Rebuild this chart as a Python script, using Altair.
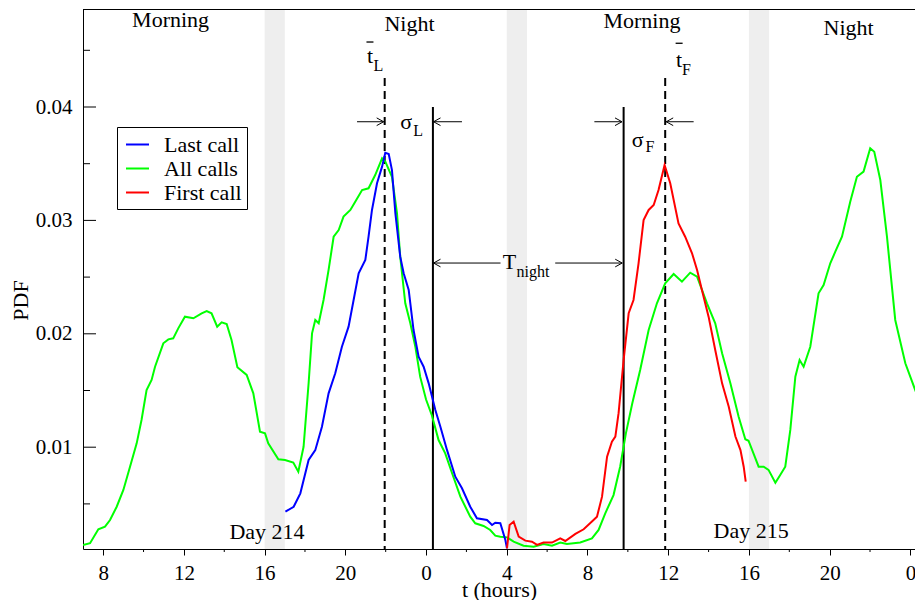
import altair as alt
import pandas as pd

# ---------------- data ----------------
all_t = [7.0, 7.35, 7.76, 8.09, 8.34, 8.67, 9.0, 9.33, 9.66, 9.9, 10.15, 10.4, 10.57, 10.98, 11.23,
         11.47, 11.72, 12.05, 12.47, 12.88, 13.13, 13.37, 13.65, 13.87, 14.12, 14.36, 14.65, 15.11,
         15.44, 15.77, 16.02, 16.18, 16.68, 17.01, 17.42, 17.67, 17.93, 18.18, 18.35, 18.51, 18.68,
         18.92, 19.17, 19.42, 19.67, 19.91, 20.25, 20.49, 20.83, 21.15, 21.48, 21.82, 21.98, 22.31,
         22.56, 22.72, 22.97, 23.22, 23.47, 23.71, 24.0, 24.29, 24.62, 24.95, 25.29, 25.7, 26.19,
         26.44, 26.85, 27.18, 27.43, 27.68, 28.01, 28.34, 28.83, 29.33, 29.82, 30.24, 30.65, 30.98,
         31.64, 32.22, 32.55, 32.88, 33.29, 33.62, 33.9, 34.22, 34.61, 35.03, 35.44, 35.85, 36.27,
         36.68, 37.09, 37.43, 37.92, 38.33, 38.67, 39.08, 39.49, 39.82, 39.98, 40.48, 40.73, 40.97,
         41.31, 41.55, 41.8, 42.05, 42.3, 42.51, 42.71, 43.04, 43.45, 43.7, 44.03, 44.28, 44.61,
         45.02, 45.35, 45.68, 46.01, 46.21, 46.51, 46.84, 47.25, 47.75, 48.24, 48.64]
all_pdf = [0.00138, 0.00153, 0.00276, 0.0030, 0.00358, 0.00475, 0.00623, 0.00828, 0.01034, 0.0124,
           0.01504, 0.01593, 0.0171, 0.01916, 0.01951, 0.0196, 0.02048, 0.02151, 0.02137, 0.02181,
           0.02201, 0.02181, 0.02063, 0.02101, 0.02086, 0.01945, 0.01705, 0.01637, 0.01475, 0.01137,
           0.01122, 0.01034, 0.00893, 0.00887, 0.00864, 0.00784, 0.01004, 0.01564, 0.02004, 0.02122,
           0.02093, 0.02298, 0.02563, 0.02856, 0.02915, 0.03033, 0.03092, 0.03165, 0.03268, 0.03283,
           0.034, 0.03548, 0.03518, 0.03385, 0.03062, 0.0268, 0.02269, 0.02093, 0.01886, 0.0162,
           0.0142, 0.0128, 0.01063, 0.00946, 0.0077, 0.00564, 0.00387, 0.00329, 0.00305, 0.0027,
           0.0022, 0.00211, 0.00205, 0.00167, 0.00131, 0.00123, 0.00146, 0.00131, 0.0016, 0.00146,
           0.0016, 0.00195, 0.0027, 0.00417, 0.00578, 0.0083, 0.0112, 0.01387, 0.01681, 0.02033,
           0.02269, 0.02445, 0.02527, 0.0246, 0.02539, 0.02504, 0.02269, 0.02093, 0.01828, 0.01563,
           0.01269, 0.0107, 0.01057, 0.00828, 0.00828, 0.008, 0.00687, 0.00755, 0.00828, 0.01152,
           0.01622, 0.01769, 0.0171, 0.01886, 0.02357, 0.0243, 0.02622, 0.02724, 0.02856, 0.03165,
           0.03385, 0.0343, 0.03636, 0.03606, 0.03356, 0.02856, 0.02122, 0.0174, 0.01504, 0.01328]

last_t = [17.03, 17.44, 17.77, 18.18, 18.51, 18.84, 19.17, 19.5, 19.83, 20.16, 20.41, 20.66, 20.99,
          21.15, 21.32, 21.57, 21.82, 21.98, 22.15, 22.31, 22.48, 22.72, 22.89, 23.14, 23.38, 23.63,
          23.88, 24.13, 24.46, 24.71, 25.04, 25.45, 25.78, 26.19, 26.52, 27.02, 27.27, 27.43, 27.68,
          27.93, 28.01]
last_pdf = [0.00431, 0.00475, 0.00593, 0.00887, 0.00974, 0.01181, 0.01475, 0.01652, 0.01886, 0.02063,
            0.02298, 0.02534, 0.02651, 0.02856, 0.03092, 0.03327, 0.03474, 0.03597, 0.03586, 0.03444,
            0.03062, 0.0268, 0.02534, 0.02386, 0.02033, 0.01798, 0.0171, 0.01563, 0.01328, 0.01181,
            0.00974, 0.0074, 0.00638, 0.00475, 0.00373, 0.00358, 0.00314, 0.00334, 0.00329, 0.00182,
            0.00108]

first_t = [28.01, 28.14, 28.34, 28.59, 28.92, 29.25, 29.5, 29.82, 30.24, 30.65, 30.9, 31.4, 31.81,
           32.22, 32.47, 32.72, 32.97, 33.21, 33.38, 33.54, 33.79, 34.04, 34.28, 34.53, 34.78, 35.03,
           35.28, 35.52, 35.82, 36.1, 36.51, 36.84, 37.18, 37.43, 37.67, 38.0, 38.33, 38.67, 39.0,
           39.33, 39.58, 39.74, 39.84]
first_pdf = [0.00108, 0.00314, 0.00344, 0.00211, 0.00176, 0.00167, 0.00138, 0.00159, 0.00159, 0.00196,
             0.00173, 0.00235, 0.00276, 0.00344, 0.00387, 0.00564, 0.00916, 0.01049, 0.01094, 0.013,
             0.01769, 0.02181, 0.02298, 0.02622, 0.03003, 0.03092, 0.03136, 0.03268, 0.03489, 0.03327,
             0.02974, 0.02856, 0.0271, 0.02563, 0.02386, 0.02151, 0.01857, 0.01563, 0.01357, 0.01094,
             0.00975, 0.00828, 0.00696]

series_names = ["Last call", "All calls", "First call"]
series_colors = ["#0000ff", "#00ff00", "#ff0000"]

x_ticks = [8, 12, 16, 20, 24, 28, 32, 36, 40, 44, 48]
x_minor = [10, 14, 18, 22, 26, 30, 34, 38, 42, 46]
y_ticks = [0.01, 0.02, 0.03, 0.04]
y_minor = [0.005, 0.015, 0.025, 0.035, 0.045]

band_start = [16, 28, 40]
band_end = [17, 29, 41]

period_labels = ["Morning", "Night", "Morning", "Night", "Day 214", "Day 215", "σ", "σ", "T"]
period_t = [11.34, 23.18, 34.7, 44.94, 16.12, 40.11, 23.01, 34.49, 28.13]
period_y = [0.04767, 0.04732, 0.04758, 0.04697, 0.00255, 0.00258, 0.0387, 0.03709, 0.02633]

tbar_t = [21.22, 36.54]
tbar_y = [0.04388, 0.04353]
macron_y = [0.04573, 0.04562]

sub_labels = ["L", "F", "L", "F", "night"]
sub_t = [21.39, 36.68, 23.37, 34.87, 28.48]
sub_y = [0.04362, 0.04326, 0.03788, 0.03643, 0.02545]

solid_t = [24.34, 33.79]
solid_top = [0.04, 0.04]
dashed_t = [21.95, 35.85]
dashed_top = [0.04256, 0.04256]

# arrows: start, tip, level
arrow_start = [20.58, 25.78, 32.34, 37.26, 27.69, 30.40]
arrow_tip = [21.9, 24.37, 33.71, 35.9, 24.37, 33.72]
arrow_y = [0.0387, 0.0387, 0.0387, 0.0387, 0.02624, 0.02624]

# ---------------- chart ----------------
FONT = "Liberation Serif"
W, H = 832, 540
xs = alt.Scale(domain=[7, 48.229], nice=False, zero=False)
ys = alt.Scale(domain=[0.001023, 0.048642], nice=False, zero=False)

x_axis = alt.Axis(values=x_ticks, labelExpr="datum.value % 24", grid=False, domain=True,
                  domainColor="black", domainWidth=1, tickColor="black", tickSize=6, tickWidth=1,
                  labelFont=FONT, labelFontSize=21, labelColor="black", labelPadding=7,
                  titleFont=FONT, titleFontSize=22, titleFontWeight="normal", titleColor="black",
                  titleY=40, titleBaseline="middle")
y_axis = alt.Axis(values=y_ticks, format=".2f", grid=False, domain=True, domainColor="black",
                  domainWidth=1, ticks=False, labelFont=FONT, labelFontSize=21, labelColor="black",
                  labelPadding=11, titleFont=FONT, titleFontSize=22, titleFontWeight="normal",
                  titleColor="black", titleX=-63, titleY=291, titleAngle=270, titleAlign="center",
                  titleBaseline="middle")


def X(f):
    return alt.X(f, type="quantitative", scale=xs, axis=x_axis, title="t (hours)")


def Y(f):
    return alt.Y(f, type="quantitative", scale=ys, axis=y_axis, title="PDF")


bands_df = pd.DataFrame({"t": band_start, "t2": band_end})
bands = alt.Chart(bands_df).mark_rect(color="#eeeeee").encode(
    x=X("t"), x2=alt.X2("t2"), y=alt.value(0), y2=alt.value(H))

rows = []
for name, ts, vs in [("All calls", all_t, all_pdf), ("Last call", last_t, last_pdf),
                     ("First call", first_t, first_pdf)]:
    for t, v in zip(ts, vs):
        rows.append({"series": name, "t": t, "pdf": v})
lines_df = pd.DataFrame(rows)
lines_df["ord"] = range(len(lines_df))

legend = alt.Legend(orient="none", legendX=34, legendY=118, title=None, symbolType="stroke",
                    symbolStrokeWidth=2, symbolSize=529, labelFont=FONT, labelFontSize=22,
                    labelColor="black", labelOffset=14, strokeColor="black", fillColor="white",
                    padding=5, rowPadding=0, symbolOffset=3, labelLimit=300)
lines = alt.Chart(lines_df).mark_line(strokeWidth=2, clip=True).encode(
    x=X("t"), y=Y("pdf"),
    color=alt.Color("series:N", scale=alt.Scale(domain=series_names, range=series_colors),
                    legend=legend),
    detail="series:N", order="ord:Q")

solid_df = pd.DataFrame({"t": solid_t, "top": solid_top})
solid = alt.Chart(solid_df).mark_rule(color="black", strokeWidth=2).encode(
    x=X("t"), y=Y("top"), y2=alt.value(H))
dashed_df = pd.DataFrame({"t": dashed_t, "top": dashed_top})
dashed = alt.Chart(dashed_df).mark_rule(color="black", strokeWidth=2, strokeDash=[8, 5]).encode(
    x=X("t"), y=Y("top"), y2=alt.value(H))

arrows_df = pd.DataFrame({"s": arrow_start, "tip": arrow_tip, "y": arrow_y})
arrows_df["right"] = arrows_df["tip"] > arrows_df["s"]
shafts = alt.Chart(arrows_df).mark_rule(color="black", strokeWidth=1).encode(
    x=X("s"), x2=alt.X2("tip"), y=Y("y"))
heads_r = alt.Chart(arrows_df[arrows_df["right"]]).mark_point(
    shape="M-1,-0.55L0,0L-1,0.55", filled=False, size=196, strokeWidth=1, color="black",
    opacity=1).encode(x=X("tip"), y=Y("y"))
heads_l = alt.Chart(arrows_df[~arrows_df["right"]]).mark_point(
    shape="M1,-0.55L0,0L1,0.55", filled=False, size=196, strokeWidth=1, color="black",
    opacity=1).encode(x=X("tip"), y=Y("y"))

text_df = pd.DataFrame({"t": period_t, "y": period_y, "label": period_labels})
texts = alt.Chart(text_df).mark_text(font=FONT, fontSize=22, color="black", align="center",
                                     baseline="middle").encode(x=X("t"), y=Y("y"), text="label:N")

tbar_df = pd.DataFrame({"t": tbar_t, "y": tbar_y, "m": macron_y, "label": ["t", "t"]})
tletters = alt.Chart(tbar_df).mark_text(font=FONT, fontSize=22, color="black", align="center",
                                        baseline="alphabetic").encode(x=X("t"), y=Y("y"),
                                                                      text="label:N")
macrons = alt.Chart(tbar_df).mark_tick(orient="horizontal", size=7, thickness=1.3,
                                       color="black", opacity=1).encode(x=X("t"), y=Y("m"))

sub_df = pd.DataFrame({"t": sub_t, "y": sub_y, "label": sub_labels})
subs = alt.Chart(sub_df).mark_text(font=FONT, fontSize=16, color="black", align="left",
                                   baseline="middle").encode(x=X("t"), y=Y("y"), text="label:N")

# frame and ticks
frame_df = pd.DataFrame({"a": [0]})
top_line = alt.Chart(frame_df).mark_rule(color="black", strokeWidth=1).encode(
    x=alt.value(0), x2=alt.value(W), y=alt.value(0.5))

ymaj_df = pd.DataFrame({"v": y_ticks})
ymin_df = pd.DataFrame({"v": y_minor})
xmin_df = pd.DataFrame({"v": x_minor})
ytick_l = alt.Chart(ymaj_df).mark_rule(color="black", strokeWidth=1).encode(
    y=Y("v"), x=alt.value(0), x2=alt.value(13))
ymin_l = alt.Chart(ymin_df).mark_rule(color="black", strokeWidth=1).encode(
    y=Y("v"), x=alt.value(0), x2=alt.value(7))
xmin = alt.Chart(xmin_df).mark_rule(color="black", strokeWidth=1).encode(
    x=X("v"), y=alt.value(H), y2=alt.value(H + 3))

chart = alt.layer(
    bands, solid, dashed, lines, shafts, heads_r, heads_l, texts, tletters, macrons, subs,
    top_line, ytick_l, ymin_l, xmin
).properties(
    width=W, height=H,
    autosize=alt.AutoSizeParams(type="none"),
    padding={"left": 75, "top": 1, "right": 0, "bottom": 51},
    background="white",
).configure_view(stroke=None)

chart.save("out.html", embed_options={"renderer": "svg", "actions": False})
